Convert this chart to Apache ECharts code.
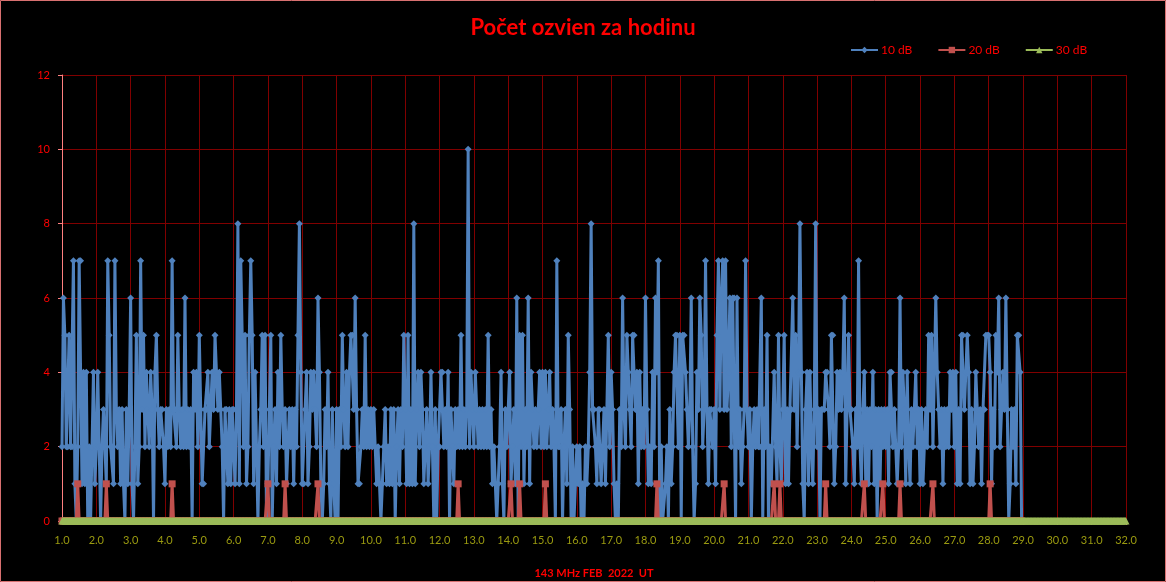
<!DOCTYPE html>
<html>
<head>
<meta charset="utf-8">
<script src="https://cdn.jsdelivr.net/npm/echarts@6/dist/echarts.min.js"></script>
<style>
html,body{margin:0;padding:0;background:#000;}
#chart{width:1166px;height:582px;}
</style>
</head>
<body>
<div id="chart"></div>
<script>
// Hourly echo counts, Feb 2022, starting at day 1.0, one value per hour (24 per row = one day)
const titleText = "Počet ozvien za hodinu";
const xAxisTitle = "143 MHz FEB  2022  UT";
const seriesNames = ["10 dB", "20 dB", "30 dB"];
const dayStart = 1;
const hoursPerDay = 24;
const xMin = 1, xMax = 32;
const yMin = 0, yMax = 12, yStep = 2;

const echoes10dB = [
2,6,5,2,2,5,2,2,7,1,0,2,7,7,1,4,1,4,0,2,0,2,4,1,
2,4,2,0,2,3,2,1,7,5,2,2,1,7,3,2,3,1,3,1,0,3,1,3,
6,1,0,2,5,1,2,7,3,5,2,4,3,2,4,3,0,4,5,3,2,3,3,2,
1,3,2,3,2,7,3,3,2,5,3,2,3,2,6,2,3,2,3,0,4,3,4,2,
5,3,1,1,3,3,4,2,3,4,3,5,4,3,4,3,2,0,3,3,1,3,1,3,
3,1,3,8,1,7,5,2,5,1,2,5,7,5,1,4,2,0,2,3,5,2,5,0,
1,3,5,0,2,3,1,4,2,5,3,2,3,1,2,3,2,3,1,3,2,5,8,4,
1,1,3,4,1,2,4,3,4,3,2,6,4,1,0,1,3,2,4,1,0,3,1,0,
3,0,3,2,5,3,2,4,2,4,5,5,3,6,3,1,1,2,3,2,5,2,3,2,
3,2,3,2,1,2,1,0,1,2,3,1,2,1,3,1,3,0,2,3,1,3,2,5,
3,1,5,1,3,1,8,1,3,4,2,4,3,1,2,3,1,2,4,2,0,3,0,2,
2,4,4,2,3,2,4,0,3,2,1,3,2,3,2,5,2,3,2,3,10,2,4,3,
2,4,3,2,3,2,3,2,3,2,5,2,3,1,2,1,0,1,2,4,1,0,3,2,
3,4,1,2,3,1,6,0,5,2,5,1,3,2,6,1,4,3,2,3,2,3,4,2,
4,2,4,2,3,4,2,3,2,0,7,2,2,3,0,2,3,1,5,3,0,2,0,1,
2,1,2,0,1,0,2,1,2,4,8,3,3,2,1,3,3,1,2,3,1,3,5,2,
4,3,1,0,1,0,3,2,6,3,2,5,4,3,2,5,5,3,4,1,4,2,3,2,
6,3,1,2,1,4,2,6,4,7,0,2,0,0,1,2,0,3,1,2,4,5,5,2,
5,0,5,5,4,3,2,3,6,2,0,1,4,3,6,5,2,3,7,3,1,3,3,2,
3,1,5,7,3,6,7,3,7,3,4,6,2,6,6,0,6,2,3,1,2,3,7,3,
2,3,0,2,3,2,3,2,2,6,0,3,2,5,0,2,1,1,4,2,1,5,2,1,
3,5,1,3,1,3,3,6,3,5,2,4,8,4,1,0,3,4,1,4,2,1,3,8,
2,3,0,3,3,3,4,4,3,2,5,5,1,2,4,3,4,3,4,6,1,3,5,3,
3,2,1,3,2,7,2,1,3,4,1,3,1,3,2,4,1,3,0,3,1,3,2,3,
2,3,1,4,4,2,3,2,1,2,6,2,4,3,1,4,2,1,3,2,3,4,2,3,
1,3,1,2,3,2,5,3,5,2,4,6,4,3,2,3,1,3,2,3,2,4,3,4,
2,4,1,3,1,5,5,3,4,5,4,1,3,1,2,4,3,2,3,1,3,3,5,5,
5,4,1,3,2,5,4,6,2,3,4,3,6,3,0,1,3,2,3,1,5,5,4,0
];

const echoes20dB = [
0,0,0,0,0,0,0,0,0,0,0,1,0,0,0,0,0,0,0,0,0,0,0,0,
0,0,0,0,0,0,0,1,0,0,0,0,0,0,0,0,0,0,0,0,0,0,0,0,
0,0,0,0,0,0,0,0,0,0,0,0,0,0,0,0,0,0,0,0,0,0,0,0,
0,0,0,0,0,1,0,0,0,0,0,0,0,0,0,0,0,0,0,0,0,0,0,0,
0,0,0,0,0,0,0,0,0,0,0,0,0,0,0,0,0,0,0,0,0,0,0,0,
0,0,0,0,0,0,0,0,0,0,0,0,0,0,0,0,0,0,0,0,0,0,0,0,
1,0,0,0,0,0,0,0,0,0,0,0,1,0,0,0,0,0,0,0,0,0,0,0,
0,0,0,0,0,0,0,0,0,0,0,1,0,0,0,0,0,0,0,0,0,0,0,0,
0,0,0,0,0,0,0,0,0,0,0,0,0,0,0,0,0,0,0,0,0,0,0,0,
0,0,0,0,0,0,0,0,0,0,0,0,0,0,0,0,0,0,0,0,0,0,0,0,
0,0,0,0,0,0,0,0,0,0,0,0,0,0,0,0,0,0,0,0,0,0,0,0,
0,0,0,0,0,0,0,0,0,0,0,0,0,1,0,0,0,0,0,0,0,0,0,0,
0,0,0,0,0,0,0,0,0,0,0,0,0,0,0,0,0,0,0,0,0,0,0,0,
0,0,1,0,0,0,0,0,1,0,0,0,0,0,0,0,0,0,0,0,0,0,0,0,
0,0,1,0,0,0,0,0,0,0,0,0,0,0,0,0,0,0,0,0,0,0,0,0,
0,0,0,0,0,0,0,0,0,0,0,0,0,0,0,0,0,0,0,0,0,0,0,0,
0,0,0,0,0,0,0,0,0,0,0,0,0,0,0,0,0,0,0,0,0,0,0,0,
0,0,0,0,0,0,0,0,1,0,0,0,0,0,0,0,0,0,0,0,0,0,0,0,
0,0,0,0,0,0,0,0,0,0,0,0,0,0,0,0,0,0,0,0,0,0,0,0,
0,0,0,0,0,0,0,1,0,0,0,0,0,0,0,0,0,0,0,0,0,0,0,0,
0,0,0,0,0,0,0,0,0,0,0,0,0,0,0,0,0,0,1,0,0,0,1,0,
0,0,0,0,0,0,0,0,0,0,0,0,0,0,0,0,0,0,0,0,0,0,0,0,
0,0,0,0,0,0,1,0,0,0,0,0,0,0,0,0,0,0,0,0,0,0,0,0,
0,0,0,0,0,0,0,0,0,1,0,0,0,0,0,0,0,0,0,0,0,0,1,0,
0,0,0,0,0,0,0,0,0,0,1,0,0,0,0,0,0,0,0,0,0,0,0,0,
0,0,0,0,0,0,0,0,0,1,0,0,0,0,0,0,0,0,0,0,0,0,0,0,
0,0,0,0,0,0,0,0,0,0,0,0,0,0,0,0,0,0,0,0,0,0,0,0,
0,1,0,0,0,0,0,0,0,0,0,0,0,0,0,0,0,0,0,0,0,0,0,0
];

const echoes30dB = [
0,0,0,0,0,0,0,0,0,0,0,0,0,0,0,0,0,0,0,0,0,0,0,0,
0,0,0,0,0,0,0,0,0,0,0,0,0,0,0,0,0,0,0,0,0,0,0,0,
0,0,0,0,0,0,0,0,0,0,0,0,0,0,0,0,0,0,0,0,0,0,0,0,
0,0,0,0,0,0,0,0,0,0,0,0,0,0,0,0,0,0,0,0,0,0,0,0,
0,0,0,0,0,0,0,0,0,0,0,0,0,0,0,0,0,0,0,0,0,0,0,0,
0,0,0,0,0,0,0,0,0,0,0,0,0,0,0,0,0,0,0,0,0,0,0,0,
0,0,0,0,0,0,0,0,0,0,0,0,0,0,0,0,0,0,0,0,0,0,0,0,
0,0,0,0,0,0,0,0,0,0,0,0,0,0,0,0,0,0,0,0,0,0,0,0,
0,0,0,0,0,0,0,0,0,0,0,0,0,0,0,0,0,0,0,0,0,0,0,0,
0,0,0,0,0,0,0,0,0,0,0,0,0,0,0,0,0,0,0,0,0,0,0,0,
0,0,0,0,0,0,0,0,0,0,0,0,0,0,0,0,0,0,0,0,0,0,0,0,
0,0,0,0,0,0,0,0,0,0,0,0,0,0,0,0,0,0,0,0,0,0,0,0,
0,0,0,0,0,0,0,0,0,0,0,0,0,0,0,0,0,0,0,0,0,0,0,0,
0,0,0,0,0,0,0,0,0,0,0,0,0,0,0,0,0,0,0,0,0,0,0,0,
0,0,0,0,0,0,0,0,0,0,0,0,0,0,0,0,0,0,0,0,0,0,0,0,
0,0,0,0,0,0,0,0,0,0,0,0,0,0,0,0,0,0,0,0,0,0,0,0,
0,0,0,0,0,0,0,0,0,0,0,0,0,0,0,0,0,0,0,0,0,0,0,0,
0,0,0,0,0,0,0,0,0,0,0,0,0,0,0,0,0,0,0,0,0,0,0,0,
0,0,0,0,0,0,0,0,0,0,0,0,0,0,0,0,0,0,0,0,0,0,0,0,
0,0,0,0,0,0,0,0,0,0,0,0,0,0,0,0,0,0,0,0,0,0,0,0,
0,0,0,0,0,0,0,0,0,0,0,0,0,0,0,0,0,0,0,0,0,0,0,0,
0,0,0,0,0,0,0,0,0,0,0,0,0,0,0,0,0,0,0,0,0,0,0,0,
0,0,0,0,0,0,0,0,0,0,0,0,0,0,0,0,0,0,0,0,0,0,0,0,
0,0,0,0,0,0,0,0,0,0,0,0,0,0,0,0,0,0,0,0,0,0,0,0,
0,0,0,0,0,0,0,0,0,0,0,0,0,0,0,0,0,0,0,0,0,0,0,0,
0,0,0,0,0,0,0,0,0,0,0,0,0,0,0,0,0,0,0,0,0,0,0,0,
0,0,0,0,0,0,0,0,0,0,0,0,0,0,0,0,0,0,0,0,0,0,0,0,
0,0,0,0,0,0,0,0,0,0,0,0,0,0,0,0,0,0,0,0,0,0,0,0,
0,0,0,0,0,0,0,0,0,0,0,0,0,0,0,0,0,0,0,0,0,0,0,0,
0,0,0,0,0,0,0,0,0,0,0,0,0,0,0,0,0,0,0,0,0,0,0,0,
0,0,0,0,0,0,0,0,0,0,0,0,0,0,0,0,0,0,0,0,0,0,0,0,
0
];

function toPairs(arr){
  return arr.map((v,i)=>[dayStart + i/hoursPerDay, v]);
}

const FONT = 'Lato, "Open Sans", sans-serif';
const chart = echarts.init(document.getElementById('chart'), null, {renderer:'canvas'});
chart.setOption({
  backgroundColor:'#000000',
  animation:false,
  title:{
    text:titleText, left:'center', top:12,
    textStyle:{color:'#FF0000', fontSize:22, fontWeight:'bold', fontFamily:FONT}
  },
  legend:{
    left:845, top:39, itemWidth:27, itemHeight:8, itemGap:25,
    textStyle:{color:'#FF0000', fontSize:12, fontFamily:FONT, padding:[0,0,0,-2]},
    data:seriesNames
  },
  graphic:[{
    type:'rect', shape:{x:0.5,y:0.5,width:1165,height:581},
    style:{fill:'none', stroke:'#D87070', lineWidth:1}, silent:true
  }],
  grid:{left:62, right:40, top:75, bottom:61, containLabel:false, outerBoundsMode:'none'},
  xAxis:{
    type:'value', min:xMin, max:xMax, interval:1,
    name:xAxisTitle, nameLocation:'middle', nameGap:47,
    nameTextStyle:{color:'#FF0000', fontSize:11, fontWeight:'bold', fontFamily:FONT},
    axisLine:{show:true, onZero:false, lineStyle:{color:'#FF8080', width:1}},
    axisTick:{show:true, length:4, lineStyle:{color:'#FF8080'}},
    axisLabel:{color:'#9A9A10', fontSize:11, margin:14, fontFamily:FONT,
      formatter:v=>v.toFixed(1)},
    splitLine:{show:true, lineStyle:{color:'#800000', width:1}}
  },
  yAxis:{
    type:'value', min:yMin, max:yMax, interval:yStep,
    axisLine:{show:true, lineStyle:{color:'#FF8080', width:1}},
    axisTick:{show:true, length:4, lineStyle:{color:'#FF8080'}},
    axisLabel:{color:'#FF0000', fontSize:11, margin:12, fontFamily:FONT},
    splitLine:{show:true, lineStyle:{color:'#800000', width:1}}
  },
  series:[
    {
      name:seriesNames[0], type:'line', data:toPairs(echoes10dB),
      showSymbol:true, showAllSymbol:true, symbol:'diamond', symbolSize:7,
      itemStyle:{color:'#4F81BD'}, lineStyle:{color:'#4F81BD', width:3},
      sampling:null, z:2
    },
    {
      name:seriesNames[1], type:'line', data:toPairs(echoes20dB),
      showSymbol:true, showAllSymbol:true, symbol:'rect', symbolSize:7,
      itemStyle:{color:'#C0504D'}, lineStyle:{color:'#C0504D', width:3},
      z:3
    },
    {
      name:seriesNames[2], type:'line', data:toPairs(echoes30dB),
      showSymbol:true, showAllSymbol:true, symbol:'triangle', symbolSize:7,
      itemStyle:{color:'#9BBB59'}, lineStyle:{color:'#9BBB59', width:7},
      z:4
    }
  ]
});
</script>
</body>
</html>
